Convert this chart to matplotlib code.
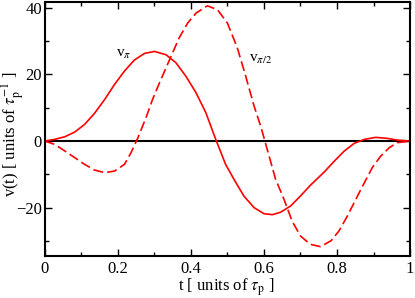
import matplotlib
matplotlib.use("Agg")
import matplotlib.pyplot as plt

# v_pi (solid)
t_pi = [0.0, 0.027, 0.055, 0.082, 0.109, 0.136, 0.164, 0.191, 0.218, 0.245,
        0.273, 0.300, 0.332, 0.359, 0.386, 0.414, 0.441, 0.468, 0.495, 0.518,
        0.545, 0.573, 0.600, 0.623, 0.645, 0.673, 0.700, 0.727, 0.765, 0.793,
        0.820, 0.847, 0.875, 0.906, 0.938, 0.965, 1.0]
v_pi = [0.0, 0.5, 1.3, 2.7, 5.0, 8.3, 12.5, 17.0, 21.0, 24.3,
        26.3, 26.9, 25.9, 23.5, 19.5, 14.5, 8.5, 0.5, -7.0, -11.5,
        -16.5, -20.0, -21.8, -22.1, -21.4, -19.5, -16.5, -13.3, -9.3, -6.0,
        -3.0, -0.7, 0.5, 1.1, 0.8, 0.3, 0.0]

# v_pi/2 (dashed)
t_pi2 = [0.0, 0.027, 0.055, 0.082, 0.109, 0.136, 0.164, 0.191, 0.218, 0.236,
         0.255, 0.277, 0.295, 0.314, 0.332, 0.350, 0.368, 0.391, 0.414, 0.445,
         0.473, 0.500, 0.527, 0.550, 0.573, 0.591, 0.609, 0.632, 0.655, 0.677,
         0.700, 0.727, 0.755, 0.784, 0.806, 0.829, 0.852, 0.875, 0.897, 0.920,
         0.943, 0.965, 1.0]
v_pi2 = [0.0, -1.0, -3.0, -5.0, -7.0, -8.7, -9.5, -9.0, -7.0, -3.5,
         1.0, 7.0, 12.5, 17.5, 22.0, 26.5, 31.0, 35.4, 38.4, 40.6,
         39.4, 35.4, 28.0, 19.5, 10.5, 4.5, -2.5, -11.5, -17.5, -24.0,
         -28.5, -31.0, -31.7, -29.9, -26.9, -22.4, -17.4, -12.5, -7.9, -4.5,
         -2.0, -0.5, 0.0]

plt.rcParams["font.family"] = ["Liberation Serif", "DejaVu Serif"]
plt.rcParams["mathtext.fontset"] = "stix"

fig = plt.figure(figsize=(4.15, 2.98), dpi=100)
ax = fig.add_axes([0.108, 0.141, 0.880, 0.853])

ax.axhline(0, color="black", lw=1.5)
ax.plot(t_pi, v_pi, color="red", lw=1.2)
ax.plot(t_pi2, v_pi2, color="red", lw=1.2, dashes=(6, 2.5))

ax.text(0.196, 25.4, r"v$_\pi$", fontsize=11)
ax.text(0.559, 23.9, r"v$_{\pi/2}$", fontsize=11)

ax.set_xlim(0, 1)
ax.set_ylim(-34.5, 41.8)
ax.set_xticks([0, 0.2, 0.4, 0.6, 0.8, 1])
ax.set_xticklabels(["0", "0.2", "0.4", "0.6", "0.8", "1"])
ax.set_xticks([0.1, 0.3, 0.5, 0.7, 0.9], minor=True)
ax.set_yticks([-20, 0, 20, 40])
ax.set_yticks([-30, -10, 10, 30], minor=True)
ax.tick_params(which="both", direction="in", top=True, right=True, width=1, labelsize=12)
ax.tick_params(which="major", length=5)
ax.tick_params(which="minor", length=3)
ax.tick_params(axis="y", pad=2)
for s in ax.spines.values():
    s.set_linewidth(1.5)

ax.set_xlabel(r"t [ units of $\tau_{\rm p}$ ]", fontsize=12)
ax.set_ylabel(r"v(t) [ units of $\tau_{\rm p}^{-1}$ ]", fontsize=12)
ax.xaxis.set_label_coords(0.497, -0.08)
ax.yaxis.set_label_coords(-0.05, 0.478)

fig.savefig("out.png", dpi=100)
